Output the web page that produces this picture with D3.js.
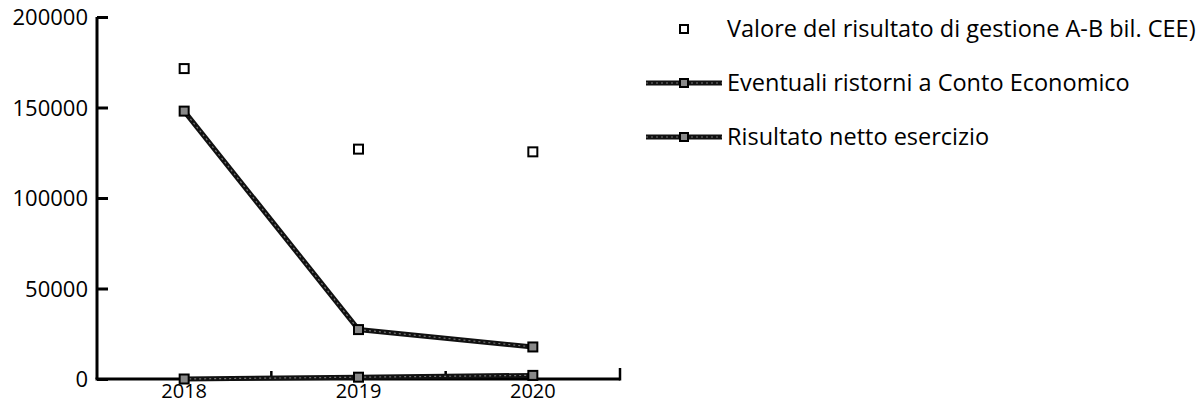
<!DOCTYPE html>
<html>
<head>
<meta charset="utf-8">
<script src="https://cdn.jsdelivr.net/npm/d3@7"></script>
<style>
  body { margin: 0; background: #fff; }
  svg { font-family: "Open Sans", sans-serif; }
</style>
</head>
<body>
<svg width="1200" height="405"></svg>
<script>
// the data
var categories = ["2018", "2019", "2020"];
var valore = [171500, 127000, 125500];
var ristorni = [0, 1000, 2000];
var risultato = [148000, 27300, 17700];
var yTicks = [0, 50000, 100000, 150000, 200000];
var seriesNames = [
  "Valore del risultato di gestione A-B bil. CEE)",
  "Eventuali ristorni a Conto Economico",
  "Risultato netto esercizio"
];

var svg = d3.select("svg");

var x = d3.scaleBand().domain(categories).range([97, 620]);
var y = d3.scaleLinear().domain([0, 200000]).range([379, 17]);

//////////// AXES ////////////

var yAxis = svg.append("g")
    .attr("transform", "translate(97,0)")
    .call(d3.axisRight(y).tickValues(yTicks).tickSize(11).tickFormat(d3.format("d")));
yAxis.attr("font-family", null).attr("font-size", null);
yAxis.select(".domain").attr("stroke", "#000").attr("stroke-width", 3)
    .attr("d", "M0," + y(0) + "V" + y(200000));
yAxis.selectAll(".tick line").attr("stroke", "#000").attr("stroke-width", 3);
yAxis.selectAll(".tick text")
    .attr("x", -9)
    .attr("dy", "0.36em")
    .attr("text-anchor", "end")
    .style("font-size", "22px")
    .attr("fill", "#000");

// x axis line
svg.append("line")
    .attr("x1", x.range()[0] - 1.5).attr("x2", x.range()[1])
    .attr("y1", y(0)).attr("y2", y(0))
    .attr("stroke", "#000").attr("stroke-width", 3);

// band boundary ticks, pointing up
var bounds = categories.slice(1).map(function(c) { return x(c); });
svg.selectAll(".xtick")
    .data(bounds)
    .enter().append("line")
    .attr("x1", function(d) { return d; }).attr("x2", function(d) { return d; })
    .attr("y1", y(0)).attr("y2", y(0) - 8)
    .attr("stroke", "#000").attr("stroke-width", 2.5);
svg.append("line")
    .attr("x1", x.range()[1]).attr("x2", x.range()[1])
    .attr("y1", y(0) + 1.5).attr("y2", y(0) - 11)
    .attr("stroke", "#000").attr("stroke-width", 2.5);

svg.selectAll(".xlabel")
    .data(categories)
    .enter().append("text")
    .attr("x", function(d) { return x(d) + x.bandwidth() / 2; })
    .attr("y", 398)
    .attr("text-anchor", "middle")
    .style("font-size", "20px")
    .text(function(d) { return d; });

//////////// SERIES ////////////

function cx(i) { return x(categories[i]) + x.bandwidth() / 2; }

var line = d3.line()
    .x(function(d, i) { return cx(i); })
    .y(function(d) { return y(d); });

function drawLine(values) {
  svg.append("path").datum(values)
      .attr("d", line).attr("fill", "none")
      .attr("stroke", "#111").attr("stroke-width", 5);
  svg.append("path").datum(values)
      .attr("d", line).attr("fill", "none")
      .attr("stroke", "#777").attr("stroke-width", 1.2)
      .attr("stroke-dasharray", "2,3");
}

function drawMarkers(values, fill) {
  svg.append("g").selectAll("rect")
      .data(values)
      .enter().append("rect")
      .attr("x", function(d, i) { return cx(i) - 4.5; })
      .attr("y", function(d) { return y(d) - 4.5; })
      .attr("width", 9).attr("height", 9)
      .attr("fill", fill)
      .attr("stroke", "#000").attr("stroke-width", 2);
}

drawLine(ristorni);
drawLine(risultato);
drawMarkers(valore, "#fff");
drawMarkers(ristorni, "#888");
drawMarkers(risultato, "#888");

//////////// LEGEND ////////////

var legend = svg.append("g").attr("class", "legend");
var rowY = [29, 83, 137];

seriesNames.forEach(function(name, i) {
  var g = legend.append("g").attr("transform", "translate(0," + rowY[i] + ")");
  if (i > 0) {
    g.append("line").attr("x1", 646).attr("x2", 722).attr("y1", 0).attr("y2", 0)
        .attr("stroke", "#111").attr("stroke-width", 5);
    g.append("line").attr("x1", 646).attr("x2", 722).attr("y1", 0).attr("y2", 0)
        .attr("stroke", "#777").attr("stroke-width", 1.2)
        .attr("stroke-dasharray", "2,3");
  }
  g.append("rect")
      .attr("x", 680).attr("y", -4).attr("width", 8).attr("height", 8)
      .attr("fill", i === 0 ? "#fff" : "#888")
      .attr("stroke", "#000").attr("stroke-width", 2);
  g.append("text")
      .attr("x", 727).attr("y", 8)
      .style("font-size", "23.5px")
      .text(name);
});
</script>
</body>
</html>
